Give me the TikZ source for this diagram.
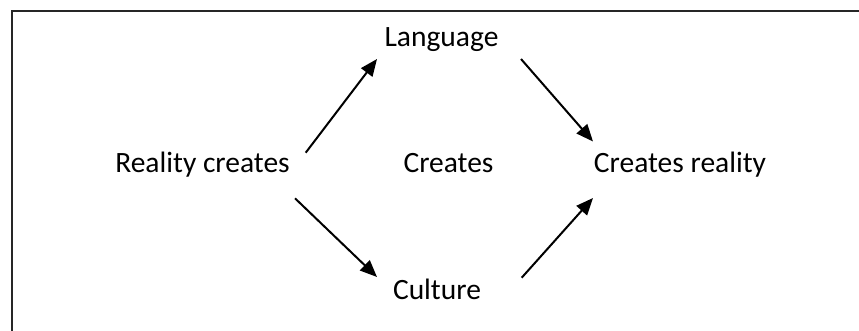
\documentclass[tikz,border=0pt]{standalone}
\usepackage{fontspec}
\setmainfont{Carlito}
\usetikzlibrary{arrows.meta}
\tikzset{
  lbl/.style={inner sep=0pt, anchor=base, font=\fontsize{29.5}{34}\selectfont},
  arr/.style={line width=2pt, -{Triangle[length=17pt,width=14pt]}},
  frame/.style={line width=1.3pt, draw=black!85}
}
\begin{document}
\begin{tikzpicture}[x=1pt,y=-1pt]
\useasboundingbox (0,0) rectangle (859,331);
\draw[frame] (12,331) -- (12,11) -- (859,11);
\node[lbl] (reality) at (202.5,173) {Reality creates};
\node[lbl] (language) at (441.5,47) {Language};
\node[lbl] (creates) at (448.5,173) {Creates};
\node[lbl] (creal) at (680,173) {Creates reality};
\node[lbl] (culture) at (437,299) {Culture};
\coordinate (a1s) at (305.7,152.7);
\coordinate (a1e) at (377,59);
\coordinate (a2s) at (521,59);
\coordinate (a2e) at (593,141.5);
\coordinate (a3s) at (295,198.3);
\coordinate (a3e) at (377,277);
\coordinate (a4s) at (521.7,277.7);
\coordinate (a4e) at (593,198);
\draw[arr] (a1s) -- (a1e);
\draw[arr] (a2s) -- (a2e);
\draw[arr] (a3s) -- (a3e);
\draw[arr] (a4s) -- (a4e);
\end{tikzpicture}
\end{document}
